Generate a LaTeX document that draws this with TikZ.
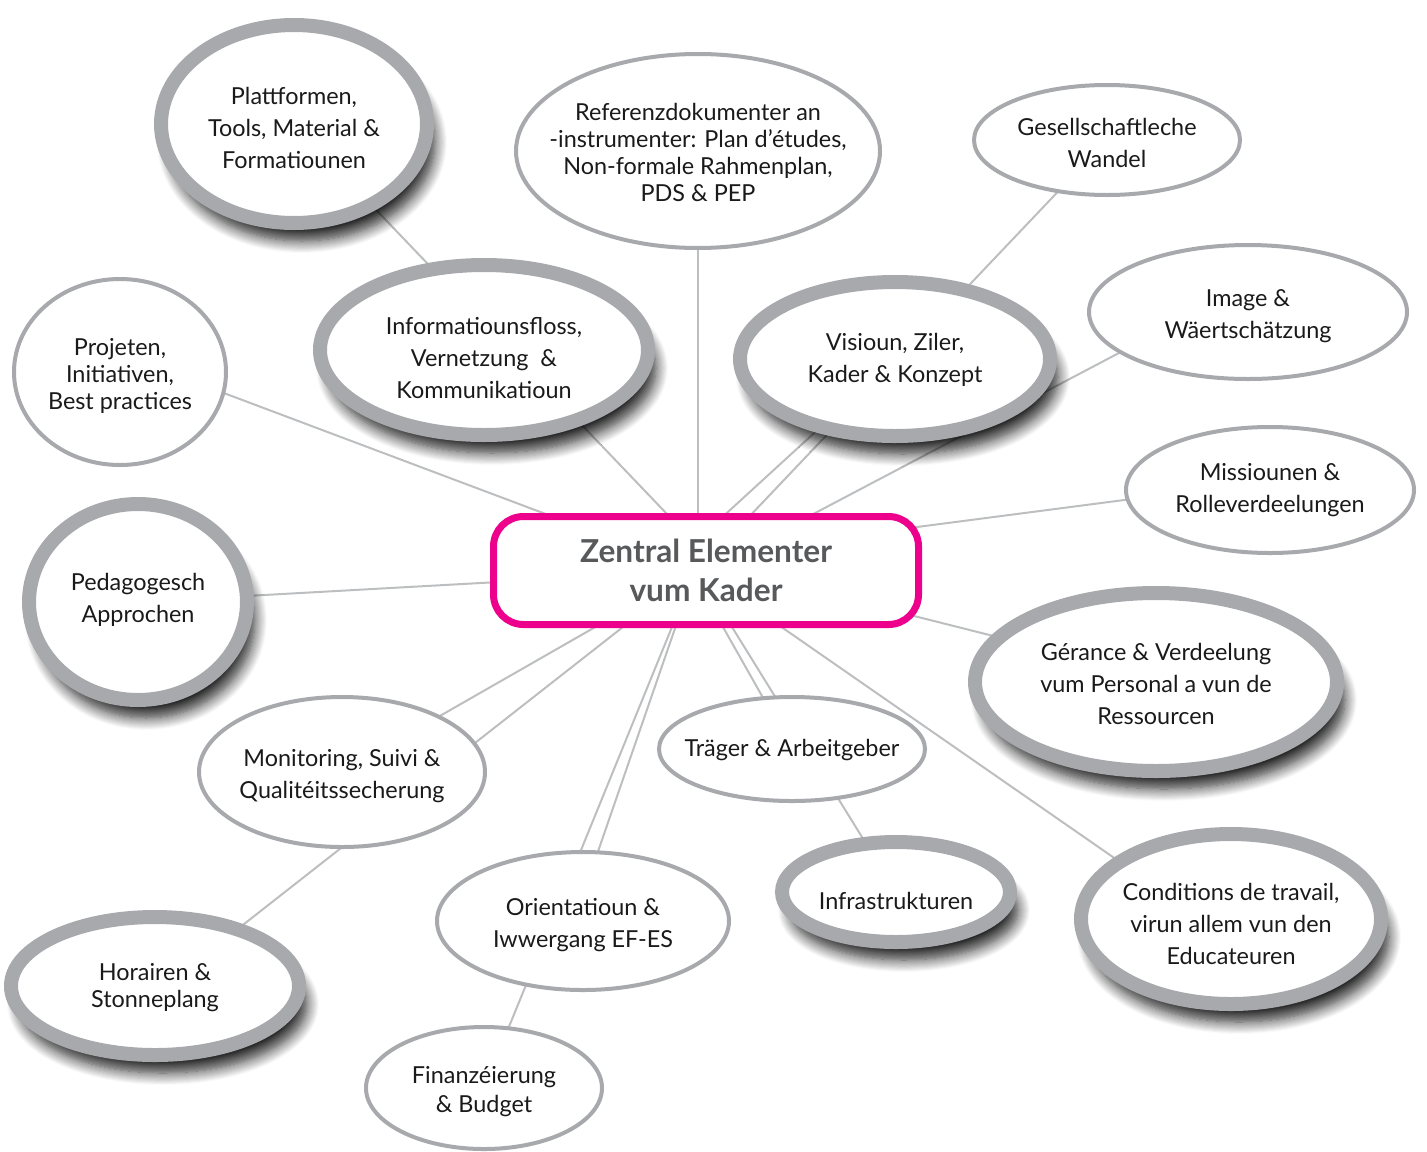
\documentclass[tikz,border=0pt]{standalone}
\usepackage{fontspec}
\setmainfont{Lato}
\usetikzlibrary{shapes.geometric,shadows.blur,backgrounds}
\definecolor{ring}{HTML}{A7A9AC}
\definecolor{conn}{HTML}{BCBEC0}
\definecolor{kmag}{HTML}{EC008C}
\definecolor{titlegray}{HTML}{58595B}
\definecolor{txt}{HTML}{1A1A1A}
\begin{document}
\begin{tikzpicture}[x=0.5pt,y=-0.5pt,
  every node/.style={inner sep=0pt},
  lab/.style={font=\fontsize{11.7pt}{16pt}\selectfont, text=txt, align=center},
  tight/.style={font=\fontsize{11.7pt}{13.5pt}\selectfont},
  heavy/.style={ellipse, draw=ring, line width=7pt, fill=white,
    blur shadow={shadow xshift=4pt, shadow yshift=-9pt, shadow blur radius=6pt, shadow opacity=85, shadow blur steps=12}},
  light/.style={ellipse, draw=ring, line width=2pt, fill=white},
  link/.style={draw=conn, line width=1pt}
]
\useasboundingbox (0,0) rectangle (1427,1151);

% central node
\node[draw=kmag, line width=3.5pt, rounded corners=15pt, fill=white,
      minimum width=212.5pt, minimum height=54pt, align=center,
      font=\fontsize{15.8pt}{19.5pt}\selectfont\bfseries, text=titlegray] (c) at (706,570.5)
      {Zentral Elementer\\vum Kader};

% heavy ellipses
\node[heavy, minimum width=133pt, minimum height=99pt] (platt) at (294,124) {};
\node[heavy, minimum width=164pt, minimum height=85pt] (info) at (484,350) {};
\node[heavy, minimum width=155pt, minimum height=77pt] (vis) at (895,359) {};
\node[heavy, minimum width=109pt, minimum height=98pt] (ped) at (138,602) {};
\node[heavy, minimum width=181pt, minimum height=89pt] (ger) at (1156,682) {};
\node[heavy, minimum width=114pt, minimum height=50pt] (infra) at (896,892) {};
\node[heavy, minimum width=150pt, minimum height=85pt] (cond) at (1231,919) {};
\node[heavy, minimum width=144pt, minimum height=69pt] (hor) at (155,986) {};

% light ellipses
\node[light, minimum width=182pt, minimum height=97pt] (ref) at (698,151) {};
\node[light, minimum width=133pt, minimum height=55pt] (ges) at (1107,140) {};
\node[light, minimum width=159pt, minimum height=67pt] (img) at (1248,312) {};
\node[light, minimum width=106pt, minimum height=93pt] (proj) at (120,372) {};
\node[light, minimum width=144pt, minimum height=63pt] (miss) at (1270,490) {};
\node[light, minimum width=143pt, minimum height=75pt] (mon) at (342,772) {};
\node[light, minimum width=133pt, minimum height=52pt] (trag) at (792,749) {};
\node[light, minimum width=146pt, minimum height=69pt] (ori) at (583,921) {};
\node[light, minimum width=118pt, minimum height=61pt] (fin) at (484,1088) {};

% texts
\node[lab] (platt-t) at ([shift={(0,4)}]platt.center) {Plattformen,\\Tools, Material \&\\Formatiounen};
\node[lab] (info-t) at ([shift={(0,8)}]info.center) {Informatiounsfloss,\\Vernetzung\ \ \&\\Kommunikatioun};
\node[lab] (vis-t) at ([shift={(0,1)}]vis.center) {Visioun, Ziler,\\Kader \& Konzept};
\node[lab] (ped-t) at ([shift={(0,-2)}]ped.center) {Pedagogesch\\Approchen};
\node[lab] (ger-t) at ([shift={(0,2)}]ger.center) {Gérance \& Verdeelung\\vum Personal a vun de\\Ressourcen};
\node[lab] (infra-t) at ([shift={(0,9)}]infra.center) {Infrastrukturen};
\node[lab] (cond-t) at ([shift={(0,5)}]cond.center) {Conditions de travail,\\virun allem vun den\\Educateuren};
\node[lab, tight] (hor-t) at ([shift={(0,2)}]hor.center) {Horairen \&\\Stonneplang};
\node[lab, tight] (ref-t) at ([shift={(0,1)}]ref.center) {Referenzdokumenter an\\-instrumenter: Plan d’études,\\Non-formale Rahmenplan,\\PDS \& PEP};
\node[lab] (ges-t) at ([shift={(0,3)}]ges.center) {Gesellschaftleche\\Wandel};
\node[lab] (img-t) at ([shift={(0,4)}]img.center) {Image \&\\Wäertschätzung};
\node[lab, tight] (proj-t) at ([shift={(0,4)}]proj.center) {Projeten,\\Initiativen,\\Best practices};
\node[lab] (miss-t) at ([shift={(0,0)}]miss.center) {Missiounen \&\\Rolleverdeelungen};
\node[lab] (mon-t) at ([shift={(0,4)}]mon.center) {Monitoring, Suivi \&\\Qualitéitssecherung};
\node[lab] (trag-t) at ([shift={(0,1)}]trag.center) {Träger \& Arbeitgeber};
\node[lab] (ori-t) at ([shift={(0,4)}]ori.center) {Orientatioun \&\\Iwwergang EF-ES};
\node[lab, font=\fontsize{11.7pt}{14.5pt}\selectfont] (fin-t) at ([shift={(0,4)}]fin.center) {Finanzéierung\\\& Budget};

% connectors
\begin{scope}[on background layer]
\draw[link] ([shift={(-10,0)}]c.center) -- ([shift={(0,-18)}]proj.center);
\draw[link] ([shift={(15,0)}]c.center) -- (platt.center);
\draw[link] (ref.center) -- (ref.center |- c.center);
\draw[link] ([shift={(-8,0)}]c.center) -- (ges.center);
\draw[link] ([shift={(-42,0)}]c.center) -- (vis.center);
\draw[link] (c.center) -- ([shift={(0,-27)}]img.center);
\draw[link] ([shift={(0,-16)}]c.center) -- ([shift={(0,-9)}]miss.center);
\draw[link] ([shift={(0,-7)}]c.center) -- ([shift={(0,-5)}]ger.center);
\draw[link] ([shift={(-6,0)}]c.center) -- ([shift={(0,20)}]cond.center);
\draw[link] ([shift={(-15,0)}]c.center) -- (trag.center);
\draw[link] ([shift={(-9,0)}]c.center) -- (infra.center);
\draw[link] ([shift={(-11,0)}]c.center) -- ([shift={(-9,0)}]ori.center);
\draw[link] ([shift={(-11,0)}]c.center) -- (fin.center);
\draw[link] ([shift={(-12,0)}]c.center) -- (mon.center);
\draw[link] ([shift={(-11,0)}]c.center) -- ([shift={(10,0)}]hor.center);
\draw[link] (c.center) -- (ped.center);
\end{scope}
\end{tikzpicture}
\end{document}
